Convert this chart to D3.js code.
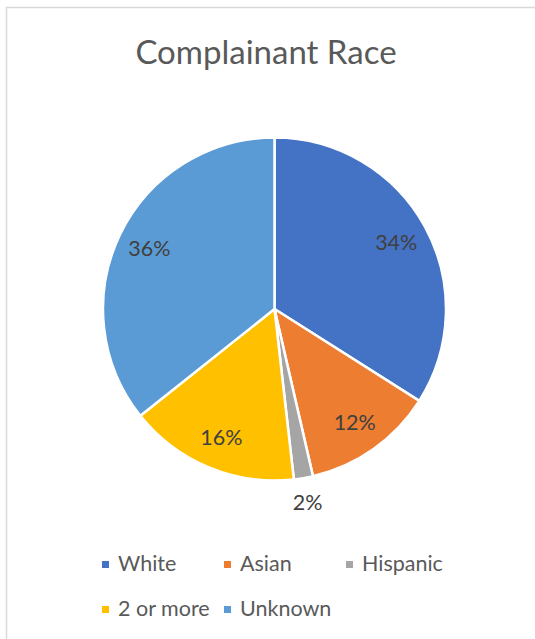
<!DOCTYPE html>
<html>
<head>
<meta charset="utf-8">
<script src="https://cdn.jsdelivr.net/npm/d3@7"></script>
<style>
  html, body { margin: 0; padding: 0; background: #fff; }
  svg { display: block; }
  text { font-family: Lato, "Open Sans", sans-serif; }
</style>
</head>
<body>
<svg id="chart" width="535" height="639"></svg>
<script>
const title = "Complainant Race";
const categories = ["White", "Asian", "Hispanic", "2 or more", "Unknown"];
const values = [34.0, 12.4, 1.8, 16.1, 35.7];
const colors = ["#4472C4", "#ED7D31", "#A5A5A5", "#FFC000", "#5B9BD5"];

const svg = d3.select("#chart");

// chart frame
svg.append("rect")
  .attr("x", 6.5).attr("y", 7.5)
  .attr("width", 700).attr("height", 800)
  .attr("fill", "#fff").attr("stroke", "#d9d9d9").attr("stroke-width", 1.5);

// title
svg.append("text")
  .attr("x", 266).attr("y", 64)
  .attr("text-anchor", "middle")
  .attr("font-size", 33)
  .attr("fill", "#595959")
  .text(title);

const cx = 274.5, cy = 309, r = 171.5;
const total = d3.sum(values);
const data = categories.map((c, i) => ({ cat: c, value: values[i], color: colors[i] }));

const pie = d3.pie().value(d => d.value).sort(null);
const arcs = pie(data);
const arc = d3.arc().innerRadius(0).outerRadius(r);
const labelArc = d3.arc().innerRadius(r * 0.81).outerRadius(r * 0.81);
const outArc = d3.arc().innerRadius(r + 25).outerRadius(r + 25);

const g = svg.append("g").attr("transform", `translate(${cx},${cy})`);
g.selectAll("path.slice")
  .data(arcs)
  .join("path")
  .attr("class", "slice")
  .attr("d", arc)
  .attr("fill", d => d.data.color)
  .attr("stroke", "#fff")
  .attr("stroke-width", 2.5)
  .attr("stroke-linejoin", "round");

const fmt = v => Math.round(v / total * 100) + "%";
g.selectAll("text.lbl")
  .data(arcs)
  .join("text")
  .attr("class", "lbl")
  .attr("transform", d => {
    const p = (d.data.value / total < 0.05 ? outArc : labelArc).centroid(d);
    return `translate(${p[0]},${p[1]})`;
  })
  .attr("text-anchor", "middle")
  .attr("dy", "0.35em")
  .attr("font-size", 21.5)
  .attr("fill", "#404040")
  .text(d => fmt(d.data.value));

// legend
const legX = 102, colW = 122, rowH = 45, baseY = 571;
const leg = svg.append("g");
const items = leg.selectAll("g.item")
  .data(data)
  .join("g")
  .attr("class", "item")
  .attr("transform", (d, i) => `translate(${legX + (i % 3) * colW},${baseY + Math.floor(i / 3) * rowH})`);
items.append("rect")
  .attr("x", 0).attr("y", -10)
  .attr("width", 7).attr("height", 7)
  .attr("fill", d => d.color);
items.append("text")
  .attr("x", 16).attr("y", 0)
  .attr("font-size", 21.5)
  .attr("fill", "#595959")
  .text(d => d.cat);
</script>
</body>
</html>
